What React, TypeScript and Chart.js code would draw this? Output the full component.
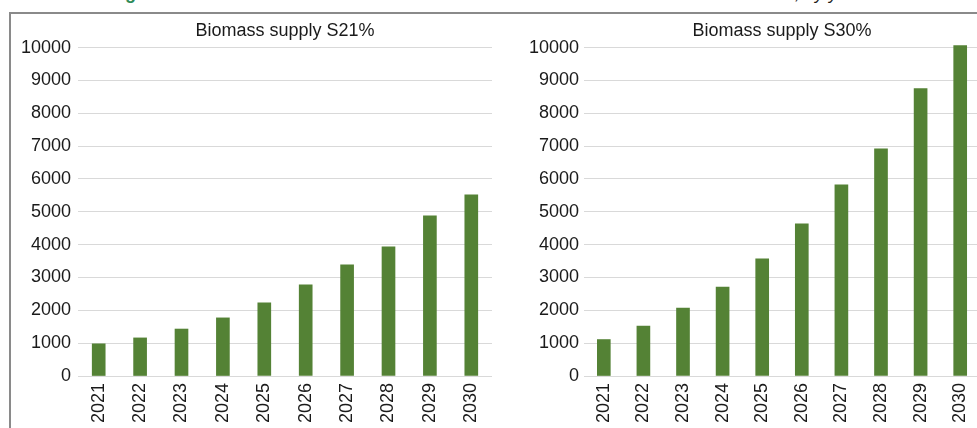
import React, { useEffect, useRef } from "react";
import { Chart, registerables } from "chart.js";

Chart.register(...registerables);

// ---- data ----
const years = ["2021", "2022", "2023", "2024", "2025", "2026", "2027", "2028", "2029", "2030"];
const supplyS21 = [980, 1160, 1430, 1770, 2225, 2775, 3385, 3930, 4880, 5520];
const supplyS30 = [1110, 1520, 2070, 2710, 3565, 4630, 5820, 6920, 8750, 10060];
const yMin = 0;
const yMax = 10000;
const yStep = 1000;
const titleS21 = "Biomass supply S21%";
const titleS30 = "Biomass supply S30%";

const FONT = "'Liberation Sans', Arial, Helvetica, sans-serif";
const TEXT = "#1a1a1a";
const GRID = "#d9d9d9";
const BAR = "#548235";

type PanelProps = {
  title: string;
  values: number[];
  left: number;
  width: number;
  yAxisWidth: number;
  yLabelPad: number;
};

function BarPanel({ title, values, left, width, yAxisWidth, yLabelPad }: PanelProps) {
  const ref = useRef<HTMLCanvasElement | null>(null);
  useEffect(() => {
    if (!ref.current) return;
    const chart = new Chart(ref.current, {
      type: "bar",
      data: {
        labels: years,
        datasets: [
          {
            data: values,
            backgroundColor: BAR,
            borderWidth: 0,
            barThickness: 13,
            clip: false as any,
          },
        ],
      },
      options: {
        animation: false,
        responsive: false,
        maintainAspectRatio: false,
        devicePixelRatio: 1,
        layout: { padding: { left: 0, right: 4, top: 0, bottom: 0 } },
        plugins: {
          legend: { display: false },
          tooltip: { enabled: false },
          title: {
            display: true,
            text: title,
            fullSize: false,
            color: TEXT,
            font: { family: FONT, size: 18, weight: "normal", lineHeight: 1.2 },
            padding: { top: 6, bottom: 6 },
          },
        },
        scales: {
          x: {
            grid: { display: false, drawTicks: false },
            border: { display: false },
            ticks: {
              color: TEXT,
              font: { family: FONT, size: 18 },
              minRotation: 90,
              maxRotation: 90,
              padding: 7,
              autoSkip: false,
            },
            afterFit: (scale: any) => {
              scale.height = 52;
              scale.paddingLeft = 0;
              scale.paddingRight = 0;
            },
          },
          y: {
            min: yMin,
            max: yMax,
            grid: { color: GRID, lineWidth: 1, drawTicks: false },
            border: { display: false },
            ticks: {
              stepSize: yStep,
              color: TEXT,
              font: { family: FONT, size: 18 },
              padding: yLabelPad,
              callback: (v: any) => String(v),
            },
            afterFit: (scale: any) => {
              scale.width = yAxisWidth;
              scale.paddingTop = 0;
              scale.paddingBottom = 0;
            },
          },
        },
      },
    });
    return () => chart.destroy();
  }, [title, values, width, yAxisWidth, yLabelPad]);

  return (
    <canvas
      ref={ref}
      width={width}
      height={414}
      style={{ position: "absolute", left, top: 14, width, height: 414 }}
    />
  );
}

export default function App() {
  return (
    <div
      style={{
        position: "fixed",
        left: 0,
        top: 0,
        width: 977,
        height: 428,
        overflow: "hidden",
        background: "#ffffff",
      }}
    >
      {/* clipped caption line above the figure */}
      <div
        style={{
          position: "absolute",
          left: 109,
          top: -16,
          fontFamily: FONT,
          fontSize: 18,
          lineHeight: "18px",
          fontWeight: "bold",
          color: "#2e8b57",
          whiteSpace: "nowrap",
        }}
      >
        Fig
      </div>
      <div
        style={{
          position: "absolute",
          left: 795,
          top: -16,
          fontFamily: FONT,
          fontSize: 18,
          lineHeight: "18px",
          fontStyle: "italic",
          color: TEXT,
          whiteSpace: "nowrap",
        }}
      >
        , by year
      </div>
      {/* figure frame */}
      <div
        style={{
          position: "absolute",
          left: 9,
          top: 12,
          width: 980,
          height: 430,
          borderLeft: "2px solid #8a8a8a",
          borderTop: "2px solid #8a8a8a",
        }}
      />
      <BarPanel title={titleS21} values={supplyS21} left={10} width={486} yAxisWidth={68} yLabelPad={7} />
      <BarPanel title={titleS30} values={supplyS30} left={496} width={488} yAxisWidth={88} yLabelPad={5} />
    </div>
  );
}
